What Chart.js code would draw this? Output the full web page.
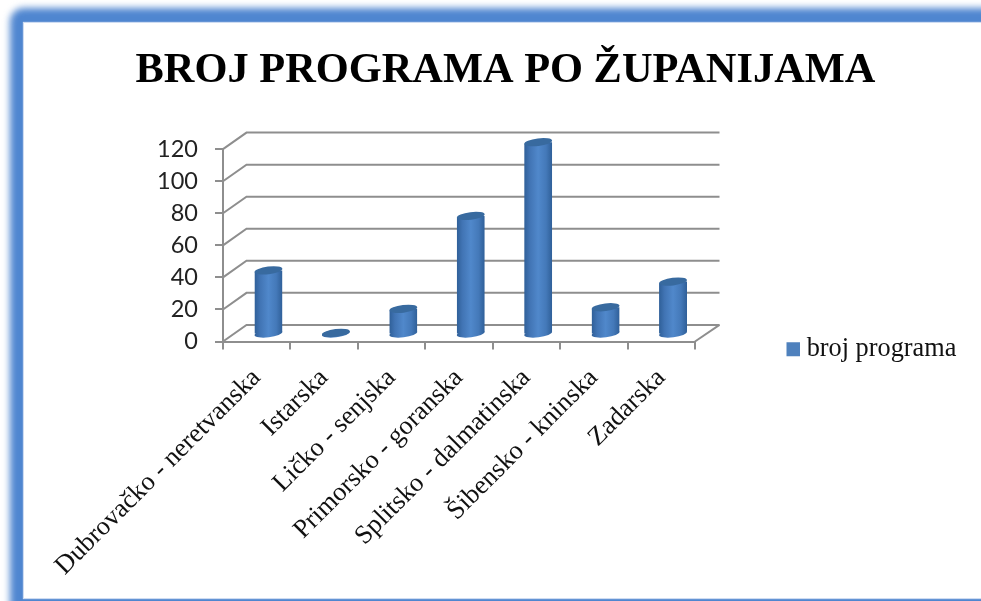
<!DOCTYPE html>
<html><head><meta charset="utf-8">
<style>
html,body{margin:0;padding:0;background:#fff;overflow:hidden}
#wrap{position:relative;width:981px;height:601px;overflow:hidden;background:#fff}
#frame{position:absolute;left:10px;top:8px;width:1040px;height:640px;border-radius:14px;background:#4f86d0;filter:blur(3.5px)}
#inner{position:absolute;left:24px;top:23px;width:1000px;height:575px;background:#fff;box-shadow:0 0 1px 1px rgba(220,230,245,.9)}
canvas{position:absolute;left:0;top:0;filter:blur(.35px)}
</style>
<script src="https://cdn.jsdelivr.net/npm/chart.js@4/dist/chart.umd.min.js"></script>
</head><body><div id="wrap"><div id="frame"></div><div id="inner"></div><canvas id="c" width="981" height="601"></canvas></div>
<script>
const categories=["Dubrovačko - neretvanska","Istarska","Ličko - senjska","Primorsko - goranska","Splitsko - dalmatinska","Šibensko - kninska","Zadarska"];
const seriesName="broj programa";
const values=[40,1,16,74,120,17,33];
const titleText="BROJ PROGRAMA PO ŽUPANIJAMA";
const tickValues=[0,20,40,60,80,100,120];

const DX=23.5,DY=-16.6,BARX=11.75,BARY=-7,GRID='#8e8e8e',RX=14,RY=3.8,TILT=-0.12;
function barGradient(ctx){
  if(ctx.dataIndex===undefined||!ctx.chart.chartArea) return '#4f81bd';
  const x=ctx.chart.scales.x.getPixelForValue(ctx.dataIndex);
  const g=ctx.chart.ctx.createLinearGradient(x-RX,0,x+RX,0);
  g.addColorStop(0,'#2f5f98');g.addColorStop(.2,'#4174b4');g.addColorStop(.5,'#5088cb');g.addColorStop(.78,'#4479b9');g.addColorStop(1,'#2f5f98');
  return g;
}
const wall={id:'wall',
  beforeLayout(chart){
    const l=chart.legend;
    if(l&&!l._wrapped){const f=l.fit;l.fit=function(){f.call(this);this.width=286;};l._wrapped=true;}
  },
  afterLayout(chart){
    const l=chart.legend;
    l.left=786.5;l.right=786.5+l.width;l.top=330;l.bottom=366;
  },
  beforeDatasetsDraw(chart){
    const {ctx,scales:{x,y}}=chart,L=x.left,R=x.right;
    ctx.save();ctx.strokeStyle=GRID;ctx.lineWidth=2;
    tickValues.forEach(v=>{const p=y.getPixelForValue(v);
      ctx.beginPath();ctx.moveTo(L,p);ctx.lineTo(L+DX,p+DY);ctx.lineTo(R+DX+1,p+DY);ctx.stroke();});
    const b=y.getPixelForValue(0);
    ctx.beginPath();ctx.moveTo(R,b);ctx.lineTo(R+DX+1,b+DY);ctx.stroke();
    ctx.restore();
    const m=chart.getDatasetMeta(0);
    ctx.save();ctx.translate(BARX,BARY);
    m.data.forEach((el,i)=>{ctx.fillStyle=barGradient({dataIndex:i,chart});
      ctx.beginPath();ctx.ellipse(el.x,el.base,RX,RY,TILT,0,Math.PI*2);ctx.fill();});
    ctx.restore();
  },
  beforeDatasetDraw(chart,args){
    const ctx=chart.ctx;ctx.save();ctx.translate(BARX,BARY);ctx.save();
    const d=RX*Math.sin(-TILT);
    ctx.beginPath();
    args.meta.data.forEach(el=>{
      ctx.moveTo(el.x-RX,el.y+d);ctx.lineTo(el.x+RX,el.y-d);ctx.lineTo(el.x+RX,el.base-d);ctx.lineTo(el.x-RX,el.base+d);ctx.closePath();});
    ctx.clip();
  },
  afterDatasetDraw(chart,args){
    const ctx=chart.ctx;ctx.restore();
    args.meta.data.forEach(el=>{ctx.fillStyle='#386a9f';
      ctx.beginPath();ctx.ellipse(el.x,el.y,RX,RY,TILT,0,Math.PI*2);ctx.fill();});
    ctx.restore();
  }
};
new Chart(document.getElementById('c'),{
  type:'bar',
  plugins:[wall],
  data:{labels:categories,datasets:[{label:seriesName,data:values,backgroundColor:barGradient,borderWidth:0,barPercentage:.415,categoryPercentage:1,clip:false}]},
  options:{
    responsive:false,animation:false,
    layout:{padding:{left:30,right:0,top:0,bottom:0}},
    plugins:{
      tooltip:{enabled:false},
      title:{display:true,text:titleText,color:'#000',font:{family:'"Liberation Serif"',size:42.4,weight:'bold'},padding:{top:46,bottom:52.3}},
      legend:{position:'right',align:'start',labels:{usePointStyle:true,pointStyle:'rect',boxWidth:1,boxHeight:14,padding:6,color:'#111',font:{family:'"Liberation Serif"',size:26.3},
        generateLabels(chart){return Chart.defaults.plugins.legend.labels.generateLabels(chart).map(i=>({...i,fillStyle:'#4f81bd'}));}}}
    },
    scales:{
      x:{offset:true,
        afterFit(s){s.height=259.5;s.paddingLeft=0;s.paddingRight=0;},
        border:{color:GRID,width:2},
        grid:{display:true,drawOnChartArea:false,drawTicks:true,tickLength:8,color:GRID,lineWidth:2},
        ticks:{autoSkip:false,maxRotation:45,minRotation:45,padding:13,color:'#111',font:{family:'"Liberation Serif"',size:26.4}}},
      y:{min:0,max:120,
        afterFit(s){s.width=193;},
        afterBuildTicks(s){s.ticks=tickValues.map(v=>({value:v}));},
        border:{color:GRID,width:2},
        grid:{display:true,drawOnChartArea:false,drawTicks:true,tickLength:8,color:GRID,lineWidth:2},
        ticks:{padding:17,color:'#222',font:{family:'Lato',size:23.5}}}
    }
  }
});
</script></body></html>
